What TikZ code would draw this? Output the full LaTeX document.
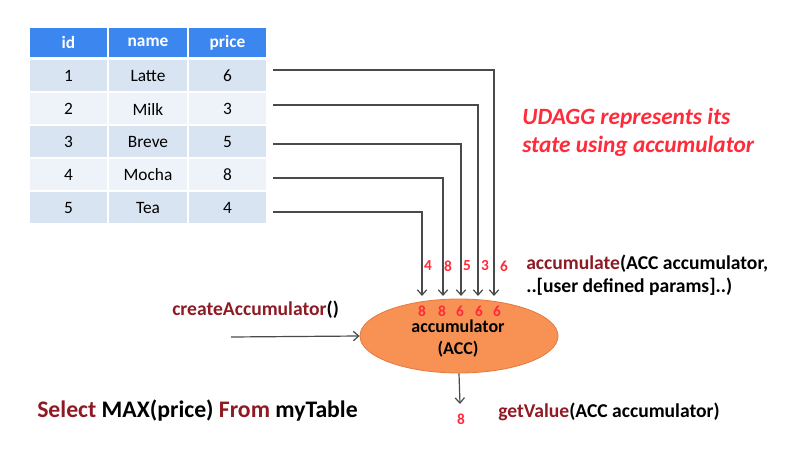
\documentclass[tikz,border=0pt]{standalone}
\usepackage{fontspec}
\setmainfont{Carlito}
\usetikzlibrary{shapes.geometric,arrows.meta}

\definecolor{hdrblue}{HTML}{3C86F0}
\definecolor{rowa}{HTML}{D9E4F2}
\definecolor{rowb}{HTML}{EEF3FA}
\definecolor{kwred}{HTML}{8E1B24}
\definecolor{numred}{HTML}{FF2B3B}
\definecolor{accfill}{HTML}{F79254}
\definecolor{accdraw}{HTML}{E27A3C}
\definecolor{wire}{HTML}{4A4A4A}

\newcommand{\kw}[1]{{\color{kwred}#1}}

\begin{document}
\begin{tikzpicture}[x=0.75pt,y=-0.75pt,
    cell/.style={rectangle,draw=white,line width=1.5pt,minimum width=59.6pt,
      minimum height=24.75pt,inner sep=0pt,font=\fontsize{13}{15}\selectfont},
    hdr/.style={cell,fill=hdrblue,minimum height=23.25pt,text=white,
      font=\fontsize{13}{15}\selectfont\bfseries},
    oddrow/.style={cell,fill=rowa},
    evenrow/.style={cell,fill=rowb},
    flow/.style={draw=wire,line width=0.9pt,-{Straight Barb[length=4pt,width=7pt]}},
    val/.style={text=numred,inner sep=0pt,font=\fontsize{11.5}{13}\selectfont\bfseries},
    fn/.style={inner sep=0pt,font=\fontsize{14.7}{17.5}\selectfont\bfseries}]

  \useasboundingbox (0,0) rectangle (785,452);

  % the table
  \node[hdr] (hid) at (68.5,42.5) {id};
  \node[hdr] (hname) at (148,42.5) {name};
  \node[hdr] (hprice) at (227.5,42.5) {price};

  \node[oddrow] (i1) at (68.5,76) {1};
  \node[oddrow] (n1) at (148,76) {Latte};
  \node[oddrow] (p1) at (227.5,76) {6};
  \node[evenrow] (i2) at (68.5,109) {2};
  \node[evenrow] (n2) at (148,109) {Milk};
  \node[evenrow] (p2) at (227.5,109) {3};
  \node[oddrow] (i3) at (68.5,142) {3};
  \node[oddrow] (n3) at (148,142) {Breve};
  \node[oddrow] (p3) at (227.5,142) {5};
  \node[evenrow] (i4) at (68.5,175) {4};
  \node[evenrow] (n4) at (148,175) {Mocha};
  \node[evenrow] (p4) at (227.5,175) {8};
  \node[oddrow] (i5) at (68.5,208) {5};
  \node[oddrow] (n5) at (148,208) {Tea};
  \node[oddrow] (p5) at (227.5,208) {4};

  % the accumulator
  \node[ellipse,fill=accfill,draw=accdraw,line width=0.6pt,minimum width=148.5pt,
    minimum height=55.5pt] (acc) at (459,336) {};
  \node[align=center,inner sep=0pt,font=\fontsize{13.5}{16.5}\selectfont\bfseries]
    (acctext) at (458,339) {accumulator\\(ACC)};

  \coordinate (s1) at (273,70);  \coordinate (t1) at (494,296);
  \coordinate (s2) at (273,105); \coordinate (t2) at (478,296);
  \coordinate (s3) at (273,144); \coordinate (t3) at (461,296);
  \coordinate (s4) at (273,178); \coordinate (t4) at (443,296);
  \coordinate (s5) at (273,212); \coordinate (t5) at (422,296);

  \draw[flow] (s1) -| (t1);
  \draw[flow] (s2) -| (t2);
  \draw[flow] (s3) -| (t3);
  \draw[flow] (s4) -| (t4);
  \draw[flow] (s5) -| (t5);

  % incoming values
  \node[val] (v5) at (428,266) {4};
  \node[val] (v4) at (448,266) {8};
  \node[val] (v3) at (467,266) {5};
  \node[val] (v2) at (485,266) {3};
  \node[val] (v1) at (504,266) {6};

  % running max
  \node[val] (m5) at (422,311) {8};
  \node[val] (m4) at (442,311) {8};
  \node[val] (m3) at (460,311) {6};
  \node[val] (m2) at (479,311) {6};
  \node[val] (m1) at (497,311) {6};

  \coordinate (src) at (231,337);
  \draw[flow] (src) -- (acc.west);

  \coordinate (out) at (460,404);
  \draw[flow] (acc.south) -- (out);
  \node[val] (res) at (461,419) {8};

  % the calls
  \node[fn,anchor=west] (create) at (172,310) {\kw{createAccumulator}()};
  \node[fn,anchor=west,align=left] (accum) at (526,275.5)
    {\kw{accumulate}(ACC accumulator,\\..[user defined params]..)};
  \node[fn,anchor=west] (getval) at (498,412) {\kw{getValue}(ACC accumulator)};
  \node[inner sep=0pt,anchor=west,font=\fontsize{17.8}{20}\selectfont\bfseries]
    (query) at (37,411) {\kw{Select} MAX(price) \kw{From} myTable};

  \node[anchor=west,align=left,inner sep=0pt,text=numred,
    font=\fontsize{17.5}{21}\selectfont\bfseries\itshape]
    (note) at (522,132) {UDAGG represents its\\state using accumulator};

\end{tikzpicture}
\end{document}
